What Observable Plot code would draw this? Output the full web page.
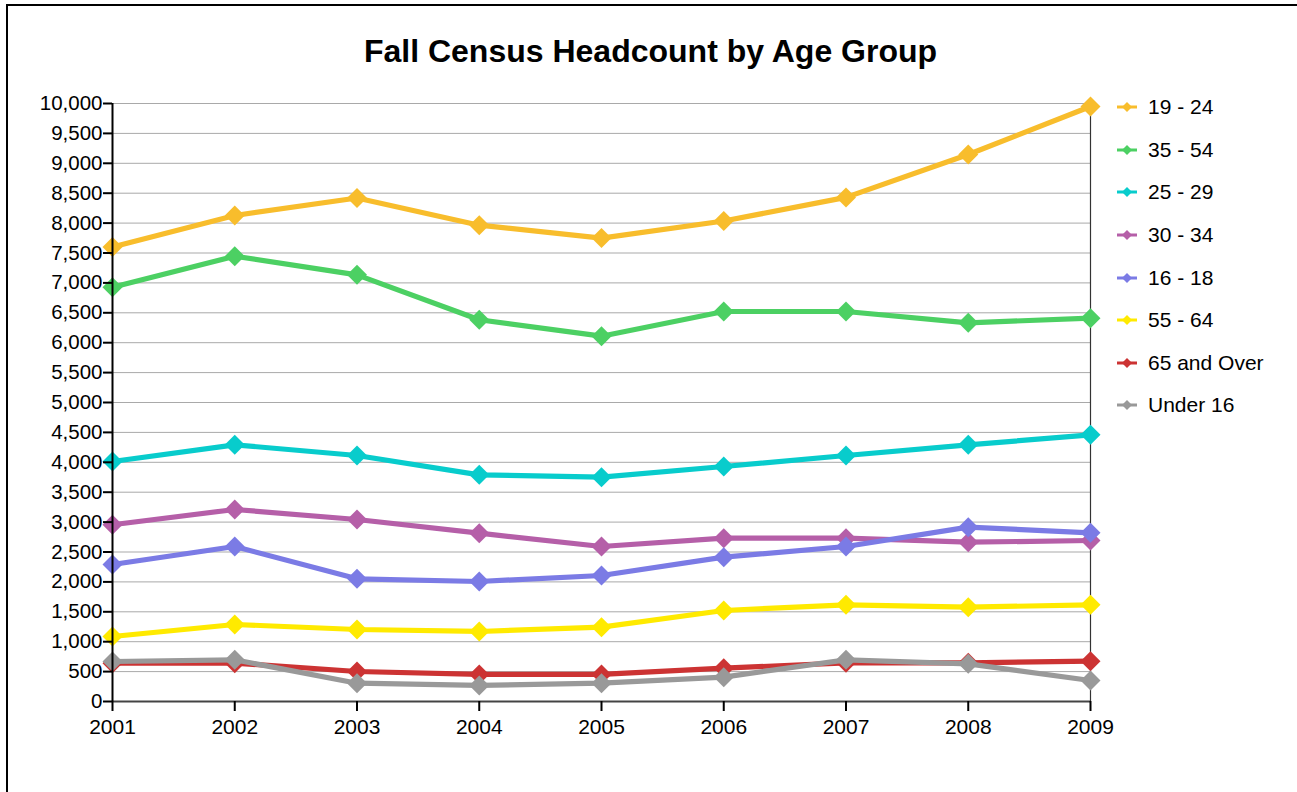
<!DOCTYPE html>
<html>
<head>
<meta charset="utf-8">
<script src="https://cdn.jsdelivr.net/npm/d3@7"></script>
<script src="https://cdn.jsdelivr.net/npm/@observablehq/plot@0.6"></script>
<style>
  html, body { margin: 0; padding: 0; background: #fff; overflow: hidden; }
  body { width: 1297px; height: 792px; position: relative; font-family: "Liberation Sans", Arial, sans-serif; }
  #frame { position: absolute; left: 6px; top: 4px; width: 1400px; height: 900px; border-left: 2px solid #000; border-top: 2px solid #000; }
  #title { position: absolute; left: 0; top: 33px; width: 1301px; text-align: center; font-weight: bold; font-size: 32px; line-height: 37px; color: #000; }
  #chart { position: absolute; left: 0; top: 0; }
  #legend { position: absolute; left: 1116px; top: 86px; }
  .item { display: flex; align-items: center; height: 42.6px; font-size: 21px; color: #000; }
  .item svg { margin-right: 10px; }
</style>
</head>
<body>
<div id="frame"></div>
<div id="chart"></div>
<div id="title">Fall Census Headcount by Age Group</div>
<div id="legend"></div>
<script>
const years = [2001, 2002, 2003, 2004, 2005, 2006, 2007, 2008, 2009];
const groups = ["19 - 24", "35 - 54", "25 - 29", "30 - 34", "16 - 18", "55 - 64", "65 and Over", "Under 16"];
const colors = ["#F8BD2C", "#4CD063", "#08CCCC", "#B55FA8", "#7B7BE5", "#FFEA00", "#CC3333", "#999999"];
const yTicks = [0, 500, 1000, 1500, 2000, 2500, 3000, 3500, 4000, 4500, 5000, 5500, 6000, 6500, 7000, 7500, 8000, 8500, 9000, 9500, 10000];

const age19to24  = [7600, 8127, 8420, 7965, 7750, 8035, 8430, 9147, 9950];
const age35to54  = [6928, 7446, 7135, 6383, 6109, 6522, 6522, 6333, 6410];
const age25to29  = [4013, 4292, 4114, 3790, 3751, 3930, 4114, 4292, 4459];
const age30to34  = [2955, 3211, 3043, 2815, 2592, 2731, 2731, 2664, 2692];
const age16to18  = [2291, 2592, 2051, 2007, 2107, 2414, 2592, 2915, 2821];
const age55to64  = [1087, 1288, 1204, 1171, 1243, 1522, 1617, 1577, 1617];
const age65over  = [641, 641, 502, 452, 452, 557, 647, 647, 674];
const under16    = [669, 697, 306, 268, 306, 407, 697, 630, 351];

const seriesValues = [age19to24, age35to54, age25to29, age30to34, age16to18, age55to64, age65over, under16];

const data = groups.flatMap((g, i) => years.map((y, j) => ({group: g, year: y, value: seriesValues[i][j]})));

const seriesMarks = groups.flatMap(g => {
  const rows = data.filter(d => d.group === g);
  return [
    Plot.line(rows, {x: "year", y: "value", stroke: "group", strokeWidth: 5.2, strokeLinejoin: "round"}),
    Plot.dot(rows, {x: "year", y: "value", fill: "group", symbol: "diamond2", r: 9})
  ];
});

const chart = Plot.plot({
  width: 1297,
  height: 792,
  marginLeft: 112,
  marginRight: 207,
  marginTop: 103,
  marginBottom: 91,
  style: {fontFamily: "'Liberation Sans', Arial, sans-serif", fontSize: "20px", color: "#000", background: "transparent"},
  x: {domain: [d3.min(years), d3.max(years)]},
  y: {domain: [0, d3.max(yTicks)]},
  color: {domain: groups, range: colors},
  marks: [
    Plot.gridY(yTicks, {stroke: "#a9a9a9", strokeOpacity: 1, strokeWidth: 1}),
    Plot.ruleX([d3.max(years)], {stroke: "#333", strokeWidth: 1.2}),
    ...seriesMarks,
    Plot.ruleY([0], {stroke: "#444", strokeWidth: 2}),
    Plot.ruleX([d3.min(years)], {stroke: "#000", strokeWidth: 2}),
    Plot.axisY({ticks: yTicks, tickFormat: d3.format(","), tickSize: 9, tickPadding: 1, strokeWidth: 2, label: null, fontSize: 20.5}),
    Plot.axisX({ticks: years, tickFormat: d => String(d), tickSize: 10, tickPadding: 8, strokeWidth: 2, label: null, fontSize: 21})
  ]
});
document.getElementById("chart").appendChild(chart);

const legend = document.getElementById("legend");
groups.forEach((g, i) => {
  const item = document.createElement("div");
  item.className = "item";
  item.innerHTML = `<svg width="22" height="12" viewBox="0 0 22 12"><line x1="1" y1="6" x2="21" y2="6" stroke="${colors[i]}" stroke-width="3"/><polygon points="11,1 16,6 11,11 6,6" fill="${colors[i]}"/></svg><span>${g}</span>`;
  legend.appendChild(item);
});
</script>
</body>
</html>
